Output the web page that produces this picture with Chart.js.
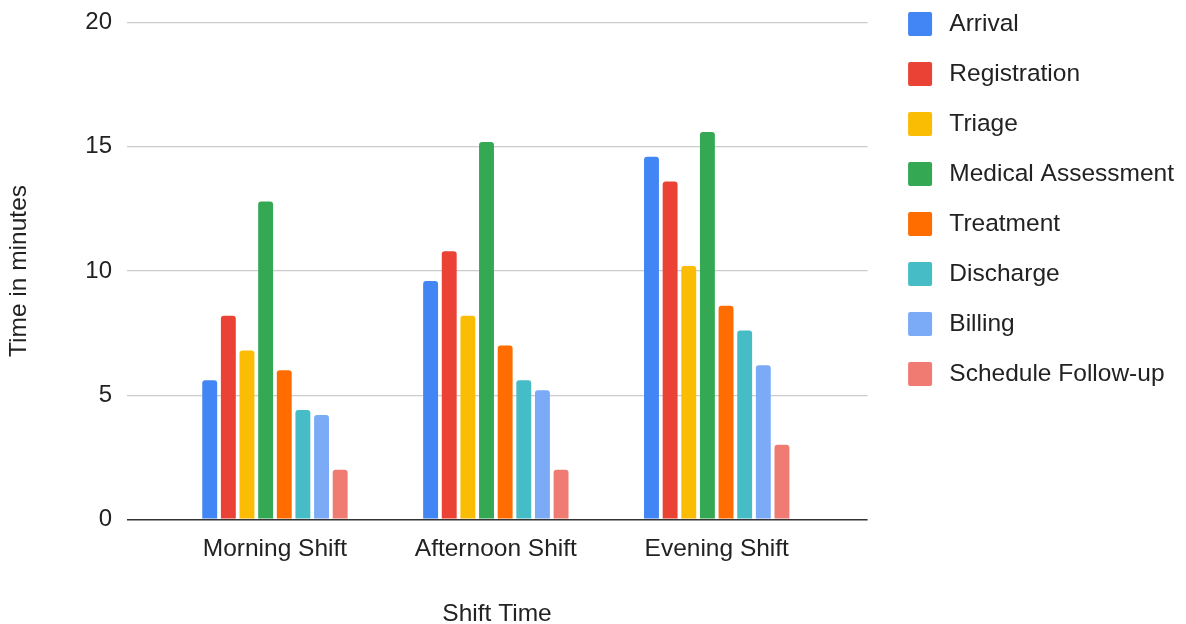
<!DOCTYPE html>
<html>
<head>
<meta charset="utf-8">
<title>Patient flow time by shift</title>
<script src="https://cdn.jsdelivr.net/npm/chart.js@4.4.1/dist/chart.umd.min.js"></script>
<style>
  html, body { margin: 0; padding: 0; background: #ffffff; overflow: hidden; }
  body { width: 1186px; height: 624px; position: relative; }
  #wrap { position: absolute; left: 0; top: -9px; width: 1184px; height: 633px; }
</style>
</head>
<body>
<div id="wrap"><canvas id="chart" width="1184" height="633"></canvas></div>
<script>
// Shift categories along the x axis
const shifts = ['Morning Shift', 'Afternoon Shift', 'Evening Shift'];

// Minutes spent in each step, per shift (morning, afternoon, evening)
const arrival      = [5.6, 9.6, 14.6];
const registration = [8.2, 10.8, 13.6];
const triage       = [6.8, 8.2, 10.2];
const assessment   = [12.8, 15.2, 15.6];
const treatment    = [6.0, 7.0, 8.6];
const discharge    = [4.4, 5.6, 7.6];
const billing      = [4.2, 5.2, 6.2];
const followUp     = [2.0, 2.0, 3.0];

// Value axis ticks
const yTicks = [0, 5, 10, 15, 20];

const stepNames = ['Arrival', 'Registration', 'Triage', 'Medical Assessment',
                   'Treatment', 'Discharge', 'Billing', 'Schedule Follow-up'];
const stepValues = [arrival, registration, triage, assessment,
                    treatment, discharge, billing, followUp];
const stepColors = ['#4285F4', '#EA4335', '#FBBC04', '#34A853',
                    '#FF6D01', '#46BDC6', '#7BAAF7', '#F07B72'];

Chart.defaults.font.family = '"Liberation Sans", Arial, Helvetica, sans-serif';
Chart.defaults.color = '#222222';

const datasets = stepNames.map((name, i) => ({
  label: name,
  data: stepValues[i].map((v, j) => ({ x: j, y: v })),
  backgroundColor: stepColors[i],
  borderWidth: 0,
  borderRadius: 3,
  borderSkipped: 'start',
  categoryPercentage: 0.675,
  barPercentage: 0.8
}));

new Chart(document.getElementById('chart'), {
  type: 'bar',
  data: { datasets },
  options: {
    responsive: false,
    animation: false,
    devicePixelRatio: 1,
    layout: { padding: { top: 0, right: 0, bottom: 0, left: 0 } },
    scales: {
      x: {
        type: 'linear',
        offset: false,
        min: -0.672,
        max: 2.683,
        afterBuildTicks: (scale) => { scale.ticks = shifts.map((_, i) => ({ value: i })); },
        afterFit: (scale) => { scale.height = 104.7; },
        grid: { display: false, drawTicks: false, tickLength: 0 },
        border: { display: false },
        ticks: {
          autoSkip: false,
          maxRotation: 0,
          padding: 18,
          color: '#222222',
          font: { size: 24.5, lineHeight: 1 },
          callback: (v) => shifts[v]
        },
        title: {
          display: true,
          text: 'Shift Time',
          color: '#222222',
          font: { size: 24.5, lineHeight: 1 },
          padding: { top: 0, bottom: -2 }
        }
      },
      y: {
        min: 0,
        max: 20,
        afterBuildTicks: (scale) => { scale.ticks = yTicks.map(v => ({ value: v })); },
        afterFit: (scale) => { scale.width = 126.5; scale.paddingTop = 31.7; },
        grid: {
          drawTicks: false,
          tickLength: 0,
          color: (ctx) => ctx.tick && ctx.tick.value === 0 ? '#333333' : '#cccccc',
          lineWidth: (ctx) => ctx.tick && ctx.tick.value === 0 ? 1.6 : 1.25
        },
        border: { display: false },
        ticks: {
          padding: 14.5,
          color: '#222222',
          font: { size: 24, lineHeight: 1 }
        },
        title: {
          display: true,
          text: 'Time in minutes',
          color: '#222222',
          font: { size: 24.5, lineHeight: 1 },
          padding: { top: 6.75, bottom: 0 }
        }
      },
      gap: {
        type: 'linear',
        position: 'right',
        display: true,
        afterFit: (scale) => { scale.width = 19.5; },
        grid: { display: false, drawTicks: false },
        border: { display: false },
        ticks: { display: false }
      }
    },
    plugins: {
      tooltip: { enabled: false },
      legend: {
        position: 'right',
        align: 'start',
        maxWidth: 300,
        labels: {
          boxWidth: 34,
          boxHeight: 34,
          padding: 16,
          color: '#222222',
          font: { size: 24.5 },
          generateLabels: (chart) =>
            Chart.defaults.plugins.legend.labels.generateLabels(chart).map(item => ({
              ...item,
              lineWidth: 10,
              strokeStyle: '#ffffff',
              borderRadius: 7
            }))
        }
      }
    }
  }
});
</script>
</body>
</html>
